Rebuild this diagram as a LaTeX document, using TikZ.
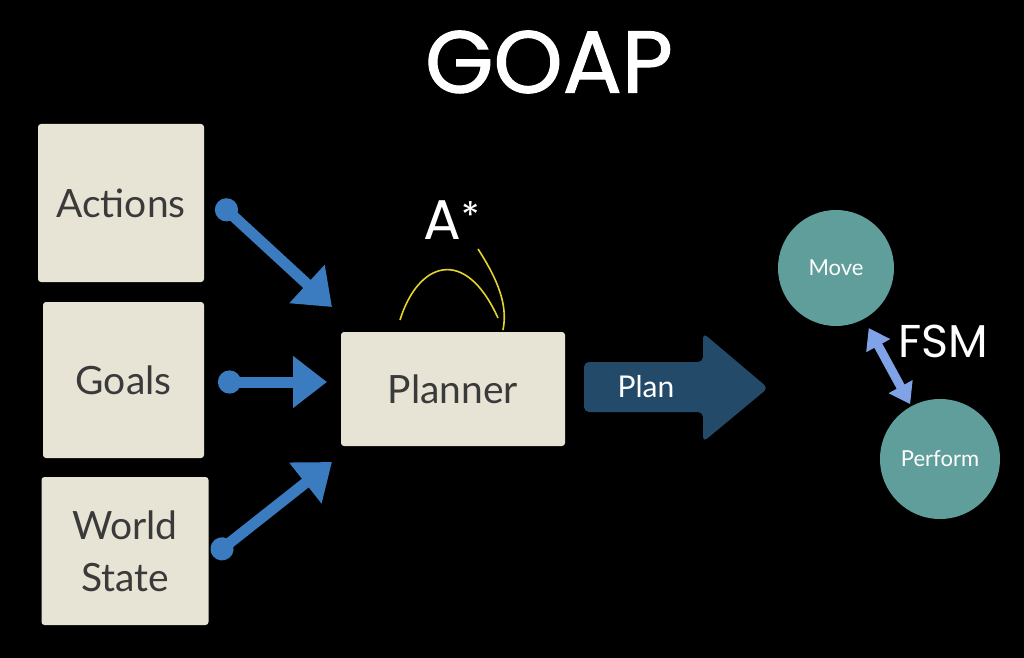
\documentclass[tikz,border=0pt]{standalone}
\usepackage{fontspec}
\setmainfont{Lato}
\newfontfamily\titlefont{Poppins}
\newfontfamily\headfont[FakeBold=1.2]{Poppins}
\usepackage{tikz}
\usetikzlibrary{positioning, arrows.meta}
\definecolor{gpbox}{HTML}{E8E4D5}
\definecolor{gptext}{HTML}{3A3A3A}
\definecolor{gpblue}{HTML}{3B7CC1}
\definecolor{gpnavy}{HTML}{244A6A}
\definecolor{gpteal}{HTML}{5F9E9A}
\definecolor{gplight}{HTML}{7FA3E6}
\definecolor{gpyellow}{HTML}{E3D42A}

\begin{document}
\begin{tikzpicture}[
  x=0.5pt, y=-0.5pt,
  box/.style={fill=gpbox, rounded corners=1.5pt, text=gptext, font=\fontsize{19.5}{26}\selectfont, align=center, inner sep=0pt},
  state/.style={circle, fill=gpteal, text=white, font=\fontsize{11}{13}\selectfont, inner sep=0pt},
  feed/.style={draw=gpblue, line width=5.5pt, {Circle[length=11.5pt]}-{Triangle[length=17pt, width=25pt]}},
]
% Background
\fill[black] (0,0) rectangle (1024,658);
\useasboundingbox (0,0) rectangle (1024,658);

% Title
\node[text=white, font=\headfont\fontsize{44}{48}\selectfont] (title) at (549,62) {GOAP};

% Inputs
\node[box, minimum width=83pt, minimum height=79pt] (actions) at (121,203) {Actions};
\node[box, minimum width=80.5pt, minimum height=78pt] (goals) at (123.5,380) {Goals};
\node[box, minimum width=83.5pt, minimum height=74pt] (world) at (125,551) {World\\State};

% Planner
\node[box, minimum width=112pt, minimum height=57pt] (planner) at (453,389) {Planner};
\node[text=white, font=\titlefont\fontsize{28}{30}\selectfont] (astar) at (452,220)
  {A\raisebox{5pt}{\fontsize{19}{19}\selectfont*}};
\draw[gpyellow, line width=0.8pt] (400,320) .. controls (418,262) and (465,245) .. (498,318);
\draw[gpyellow, line width=0.8pt] (478,249) .. controls (498,280) and (508,305) .. (503,330);

% Feed arrows
\coordinate (s1) at (218,202);
\coordinate (s2) at (218,382);
\coordinate (s3) at (213,556);
\coordinate (a1) at (332,307);
\coordinate (a2) at (327,382);
\coordinate (a3) at (332,462);
\draw[feed] (s1) -- (a1);
\draw[feed] (s2) -- (a2);
\draw[feed] (s3) -- (a3);

% Plan arrow
\fill[gpnavy, rounded corners=2.5pt] (584,362) -- (703,362) -- (703,333) -- (768,388)
  -- (703,442) -- (703,412) -- (584,412) -- cycle;
\node[text=white, font=\fontsize{15}{17}\selectfont] (plan) at (646,387) {Plan};

% FSM
\node[state, minimum size=58pt] (move) at (836,268) {Move};
\node[state, minimum size=60pt] (perform) at (940,459) {Perform};
\draw[gplight, line width=4.5pt, {Triangle[length=10pt, width=13pt]}-{Triangle[length=10pt, width=13pt]},
  shorten <=5pt, shorten >=1pt] (move) -- (perform);
\node[text=white, font=\titlefont\fontsize{23}{25}\selectfont] (fsm) at (943,341) {FSM};

\end{tikzpicture}
\end{document}
